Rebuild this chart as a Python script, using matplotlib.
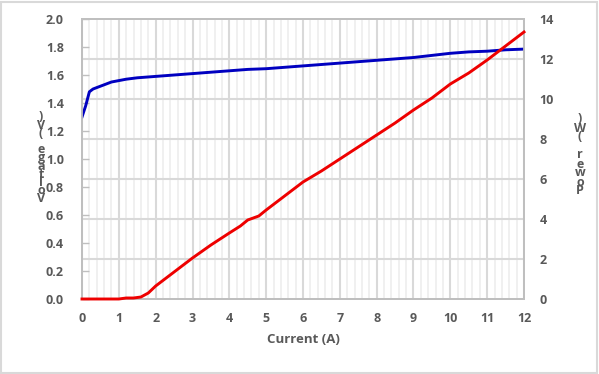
import numpy as np
import matplotlib
matplotlib.use("Agg")
import matplotlib.pyplot as plt
from matplotlib.patches import Rectangle

# ---- data ----
v_current = [0.0, 0.1, 0.2, 0.3, 0.5, 0.8, 1.2, 1.5, 2.0, 2.5, 3.0, 3.5, 4.0, 4.5, 5.0,
             5.5, 6.0, 6.5, 7.0, 7.5, 8.0, 8.5, 9.0, 9.5, 10.0, 10.5, 11.0, 11.5, 12.0]
voltage = [1.30, 1.38, 1.48, 1.50, 1.52, 1.55, 1.57, 1.58, 1.59, 1.60, 1.61, 1.62, 1.63,
           1.64, 1.645, 1.655, 1.665, 1.675, 1.685, 1.695, 1.705, 1.715, 1.725, 1.74,
           1.755, 1.765, 1.77, 1.78, 1.785]
p_current = [0.0, 0.5, 1.0, 1.2, 1.4, 1.6, 1.8, 2.0, 2.5, 3.0, 3.5, 4.0, 4.3, 4.5, 4.8,
             5.0, 5.5, 6.0, 6.5, 7.0, 7.5, 8.0, 8.5, 9.0, 9.5, 10.0, 10.5, 11.0, 11.5, 12.0]
power = [0.0, 0.0, 0.0, 0.05, 0.05, 0.1, 0.3, 0.65, 1.35, 2.05, 2.7, 3.3, 3.65, 3.95,
         4.15, 4.45, 5.15, 5.85, 6.4, 7.0, 7.6, 8.2, 8.8, 9.45, 10.05, 10.75, 11.3,
         11.95, 12.65, 13.35]
x_ticks = list(range(0, 13))
v_ticks = [0.0, 0.2, 0.4, 0.6, 0.8, 1.0, 1.2, 1.4, 1.6, 1.8, 2.0]
p_ticks = [0, 2, 4, 6, 8, 10, 12, 14]
x_label = "Current (A)"
v_label = "Voltage (V)"
p_label = "Power (W)"

W, H = 599, 374
fig = plt.figure(figsize=(W / 100, H / 100), dpi=100)
plt.rcParams['font.family'] = ['Open Sans', 'DejaVu Sans']
txt = '#595959'
grid_major = '#d9d9d9'
grid_minor = '#eeeeee'
spine_c = '#bfbfbf'

fig.patches.append(Rectangle((1 / W, 1 / H), 1 - 3 / W, 1 - 3 / H, transform=fig.transFigure,
                             fill=False, edgecolor='#d9d9d9', linewidth=1.5))

ax = fig.add_axes([82 / W, 1 - 299 / H, (524 - 82) / W, (299 - 19) / H])
ax2 = ax.twinx()

ax.set_xlim(0, 12)
ax.set_ylim(0, 2.0)
ax2.set_ylim(0, 14)

ax.set_xticks(x_ticks)
ax.set_xticks(np.arange(0, 12.01, 0.2), minor=True)
ax.set_yticks(v_ticks)
ax.set_yticklabels([f"{v:.1f}" for v in v_ticks])
ax.set_yticks([p / 7.0 for p in p_ticks], minor=True)
ax2.set_yticks(p_ticks)

ax.xaxis.grid(True, which='major', color=grid_major, linewidth=1.5, zorder=0)
ax.xaxis.grid(True, which='minor', color=grid_minor, linewidth=1.2, zorder=0)
ax.yaxis.grid(True, which='minor', color=grid_major, linewidth=1.5, zorder=0)
ax.yaxis.grid(False, which='major')
ax.set_axisbelow(True)

for a in (ax, ax2):
    for s in a.spines.values():
        s.set_color(spine_c)
        s.set_linewidth(1.3)

ax.tick_params(axis='x', which='both', length=0, pad=9, labelsize=9, labelcolor=txt)
ax.tick_params(axis='y', which='major', direction='in', length=5, width=1, color=spine_c,
               pad=13, labelsize=9, labelcolor=txt)
ax.tick_params(axis='y', which='minor', length=0)
ax2.tick_params(axis='y', length=0, pad=11, labelsize=9, labelcolor=txt)
for lab in ax.get_xticklabels() + ax.get_yticklabels() + ax2.get_yticklabels():
    lab.set_fontweight('bold')

ax.plot(v_current, voltage, color='#0000c0', linewidth=2.1, zorder=3)
ax2.plot(p_current, power, color='#ee0000', linewidth=2.1, zorder=3, clip_on=False)

ax.set_xlabel(x_label, fontsize=9.5, fontweight='bold', color=txt, labelpad=6)

# stacked vertical axis labels (characters upright, read bottom to top)
def stacked(label, xpix, ycenter, spacing):
    s = "\n".join(reversed(label))
    fig.text(xpix / W, 1 - ycenter / H, s, ha='center', va='center', ma='center',
             fontsize=9, fontweight='bold', color=txt, linespacing=spacing)

stacked(v_label, 41, 158, 0.52)
stacked(p_label, 580, 155, 0.60)

fig.savefig("out.png", dpi=100)
